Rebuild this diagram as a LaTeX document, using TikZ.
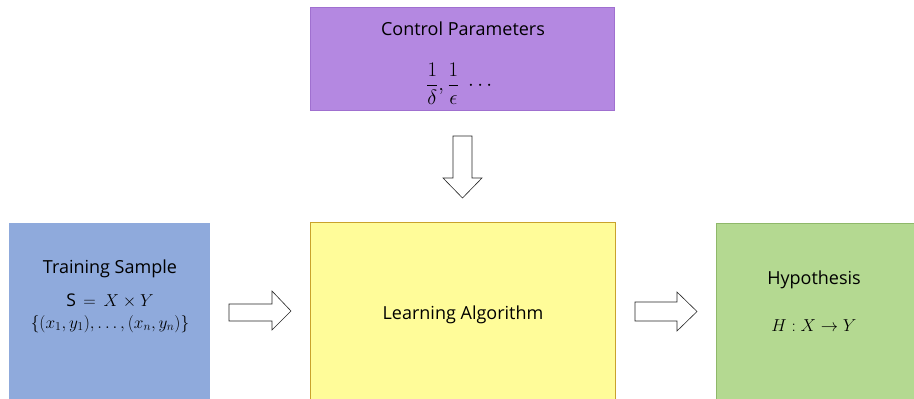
\documentclass[tikz,border=0pt]{standalone}
\usepackage{fontspec}
\setmainfont{Open Sans}
\usepackage{amsmath}
\begin{document}
\begin{tikzpicture}[x=1pt,y=-1pt,
  box/.style={rectangle, anchor=north west, inner sep=0pt, line width=0.8pt},
  lbl/.style={inner sep=0pt, font=\fontsize{18}{22}\selectfont},
  mth/.style={inner sep=0pt, font=\fontsize{17.5}{21}\selectfont},
  blockarrow/.style={draw=black!85, fill=white, line width=0.6pt, line join=miter}]
\definecolor{purp}{HTML}{B488E1}
\definecolor{purpline}{HTML}{A070D0}
\definecolor{bluebox}{HTML}{8FAADC}
\definecolor{yellowbox}{HTML}{FFFC99}
\definecolor{yellowline}{HTML}{C9A22C}
\definecolor{greenbox}{HTML}{B4D991}
\definecolor{greenline}{HTML}{8FB86A}
\path[use as bounding box] (0,0) rectangle (914,399);

% boxes
\node[box, fill=purp, draw=purpline, minimum width=304pt, minimum height=103pt] (ctrl) at (310,7) {};
\node[box, fill=bluebox, draw=none, minimum width=201pt, minimum height=180pt] (train) at (9,223) {};
\node[box, fill=yellowbox, draw=yellowline, minimum width=305pt, minimum height=180pt] (learn) at (310,222) {};
\node[box, fill=greenbox, draw=greenline, minimum width=200pt, minimum height=180pt] (hyp) at (716,223) {};

% texts
\node[lbl] (ctrlt) at (463,29) {Control Parameters};
\node[mth, font=\fontsize{20}{23}\selectfont] (ctrlm) at (461,84) {$\dfrac{1}{\delta},\dfrac{1}{\epsilon}\ \cdots$};
\node[lbl] (traint) at (110,269) {Training Sample};
\node[mth] (trainm1) at (110,301) {S $\,=\,X\times Y$};
\node[mth] (trainm2) at (110,324) {$\{(x_1,y_1),\ldots,(x_n,y_n)\}$};
\node[lbl] (learnt) at (463,315) {Learning Algorithm};
\node[lbl] (hypt) at (814,280) {Hypothesis};
\node[mth] (hypm) at (814,326) {$H:X\rightarrow Y$};

% block arrows
\draw[blockarrow] (453,136) -- (472,136) -- (472,178) -- (482,178) -- (462.5,198)
  -- (443,178) -- (453,178) -- cycle;
\draw[blockarrow] (229,304) -- (272,304) -- (272,291) -- (291,311) -- (272,330)
  -- (272,321) -- (229,321) -- cycle;
\draw[blockarrow] (635,302) -- (677,302) -- (677,292) -- (697,311.5) -- (677,331)
  -- (677,321) -- (635,321) -- cycle;
\end{tikzpicture}
\end{document}
